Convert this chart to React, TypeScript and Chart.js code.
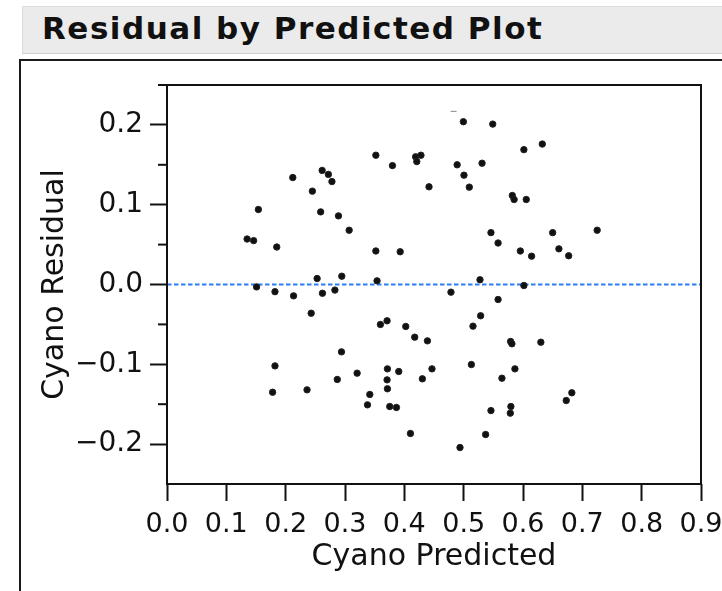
import React, { useEffect, useRef } from "react";
import { Chart, registerables } from "chart.js";

Chart.register(...registerables);

// ---- Data ----
const predicted = [
  0.212, 0.2615, 0.272, 0.278, 0.245, 0.154, 0.259, 0.289, 0.135, 0.146,
  0.185, 0.253, 0.151, 0.4995, 0.549, 0.6015, 0.352, 0.38, 0.419, 0.428,
  0.421, 0.489, 0.531, 0.5005, 0.5095, 0.4416, 0.582, 0.585, 0.6055, 0.307,
  0.352, 0.393, 0.546, 0.558, 0.5955, 0.2946, 0.354, 0.5275, 0.6015, 0.6325,
  0.65, 0.725, 0.6145, 0.6605, 0.677, 0.182, 0.2133, 0.262, 0.283, 0.243,
  0.182, 0.178, 0.236, 0.287, 0.4786, 0.558, 0.5286, 0.5157, 0.3597, 0.3709,
  0.4024, 0.4175, 0.4389, 0.2941, 0.3204, 0.3715, 0.3709, 0.3715, 0.3906, 0.4304,
  0.4466, 0.3418, 0.3379, 0.3754, 0.3867, 0.4103, 0.4938, 0.513, 0.537, 0.546,
  0.5645, 0.5864, 0.5791, 0.5813, 0.5796, 0.5786, 0.6301, 0.6823, 0.6729,
];
const residual = [
  0.134, 0.143, 0.138, 0.129, 0.117, 0.094, 0.091, 0.086, 0.057, 0.055,
  0.047, 0.0075, -0.003, 0.204, 0.201, 0.169, 0.162, 0.149, 0.16, 0.162,
  0.154, 0.15, 0.152, 0.137, 0.122, 0.1224, 0.1115, 0.1065, 0.1065, 0.068,
  0.042, 0.041, 0.065, 0.052, 0.042, 0.0104, 0.0046, 0.0059, -0.0013, 0.176,
  0.065, 0.068, 0.0355, 0.0447, 0.036, -0.009, -0.0142, -0.011, -0.007, -0.036,
  -0.102, -0.135, -0.132, -0.119, -0.0096, -0.0188, -0.0392, -0.0522, -0.0501, -0.0455,
  -0.0526, -0.066, -0.0706, -0.0844, -0.1111, -0.1057, -0.1195, -0.1307, -0.109, -0.1182,
  -0.1057, -0.1378, -0.1508, -0.1529, -0.1541, -0.1867, -0.2043, -0.1003, -0.188, -0.158,
  -0.1174, -0.1057, -0.0714, -0.0743, -0.1529, -0.1612, -0.0723, -0.1357, -0.1454,
];
const faintPredicted = [0.483];
const faintResidual = [0.217];

const zeroLineX = [0, 0.9];
const zeroLineY = [0, 0];

const xRange = [0, 0.9];
const yRange = [-0.25, 0.25];
const xTickValues = [0, 0.1, 0.2, 0.3, 0.4, 0.5, 0.6, 0.7, 0.8, 0.9];
const xTickLabels = ["0.0", "0.1", "0.2", "0.3", "0.4", "0.5", "0.6", "0.7", "0.8", "0.9"];
const yTickValues = [-0.2, -0.1, 0, 0.1, 0.2];
const yTickLabels = ["\u22120.2", "\u22120.1", "0.0", "0.1", "0.2"];
const yMinorTicks = [-0.15, -0.05, 0.05, 0.15, 0.25];

const titleText = "Residual by Predicted Plot";
const xTitle = "Cyano Predicted";
const yTitle = "Cyano Residual";

const FONT = "'DejaVu Sans', 'Noto Sans', sans-serif";

const framePlugin = {
  id: "plotFrame",
  afterDraw(chart: any) {
    const { ctx, chartArea: a, scales } = chart;
    ctx.save();
    ctx.strokeStyle = "#111";
    ctx.lineWidth = 2;
    ctx.strokeRect(a.left, a.top, a.right - a.left, a.bottom - a.top);
    yMinorTicks.forEach((v) => {
      const py = scales.y.getPixelForValue(v);
      ctx.beginPath();
      ctx.moveTo(a.left - 9, py);
      ctx.lineTo(a.left, py);
      ctx.stroke();
    });
    ctx.restore();
  },
};

export default function App() {
  const ref = useRef<HTMLCanvasElement | null>(null);

  useEffect(() => {
    if (!ref.current) return;
    const chart = new Chart(ref.current, {
      type: "scatter",
      data: {
        datasets: [
          {
            type: "line",
            data: zeroLineX.map((x, i) => ({ x, y: zeroLineY[i] })),
            borderColor: "#2b7cf6",
            borderWidth: 2,
            borderDash: [4.5, 2.5],
            pointRadius: 0,
            fill: false,
            order: 3,
          } as any,
          {
            data: predicted.map((x, i) => ({ x, y: residual[i] })),
            pointStyle: "circle",
            pointRadius: 3.2,
            backgroundColor: "#111",
            borderColor: "#222",
            borderWidth: 1,
            order: 1,
          },
          {
            data: faintPredicted.map((x, i) => ({ x, y: faintResidual[i] })),
            pointStyle: "line",
            pointRadius: 3,
            borderColor: "#888",
            borderWidth: 1,
            order: 2,
          },
        ],
      },
      options: {
        responsive: false,
        animation: false,
        devicePixelRatio: 1,
        layout: { padding: { top: 85, right: 21, bottom: 0, left: 0 } },
        plugins: { legend: { display: false }, tooltip: { enabled: false } },
        scales: {
          x: {
            type: "linear",
            min: xRange[0],
            max: xRange[1],
            afterBuildTicks: (s: any) => {
              s.ticks = xTickValues.map((v) => ({ value: v }));
            },
            afterFit: (s: any) => {
              s.height = 107;
              s.paddingLeft = 0;
              s.paddingRight = 0;
            },
            ticks: {
              callback: (v: any) => xTickLabels[xTickValues.indexOf(Number(v))] ?? "",
              font: { family: FONT, size: 27 },
              color: "#111",
              padding: 8,
              autoSkip: false,
              maxRotation: 0,
              minRotation: 0,
            },
            grid: {
              display: true,
              drawOnChartArea: false,
              drawTicks: true,
              tickLength: 17,
              tickColor: "#111",
              tickWidth: 2,
            },
            border: { display: false },
            title: {
              display: true,
              text: xTitle,
              color: "#111",
              font: { family: FONT, size: 30 },
              padding: { top: 0, bottom: 16 },
            },
          },
          y: {
            type: "linear",
            min: yRange[0],
            max: yRange[1],
            afterBuildTicks: (s: any) => {
              s.ticks = yTickValues.map((v) => ({ value: v }));
            },
            afterFit: (s: any) => {
              s.width = 167;
              s.paddingTop = 0;
              s.paddingBottom = 0;
            },
            ticks: {
              callback: (v: any) => yTickLabels[yTickValues.indexOf(Number(v))] ?? "",
              font: { family: FONT, size: 28 },
              color: "#111",
              padding: 7,
              autoSkip: false,
            },
            grid: {
              display: true,
              drawOnChartArea: false,
              drawTicks: true,
              tickLength: 17,
              tickColor: "#111",
              tickWidth: 2,
            },
            border: { display: false },
            title: {
              display: true,
              text: yTitle,
              color: "#111",
              font: { family: FONT, size: 30 },
              padding: { top: 37, bottom: 0 },
            },
          },
        },
      },
      plugins: [framePlugin],
    } as any);
    return () => chart.destroy();
  }, []);

  return (
    <div
      style={{
        position: "absolute",
        left: 0,
        top: 0,
        width: 722,
        height: 591,
        background: "#fff",
        overflow: "hidden",
      }}
    >
      <canvas
        ref={ref}
        width={722}
        height={591}
        style={{ position: "absolute", left: 0, top: 0, width: 722, height: 591, display: "block" }}
      />
      <div
        style={{
          position: "absolute",
          left: 22,
          top: 6,
          width: 700,
          height: 48,
          background: "#ebebeb",
          borderTop: "1px solid #dcdcdc",
          borderLeft: "1px solid #dcdcdc",
          borderBottom: "1px solid #cfcfcf",
          boxSizing: "border-box",
        }}
      />
      <div
        style={{
          position: "absolute",
          left: 42,
          top: 10,
          lineHeight: "36px",
          fontFamily: FONT,
          fontWeight: "bold",
          fontSize: 31,
          letterSpacing: "1.5px",
          color: "#111",
          whiteSpace: "nowrap",
        }}
      >
        {titleText}
      </div>
      <div style={{ position: "absolute", left: 19, top: 59, width: 703, height: 2, background: "#1a1a1a" }} />
      <div style={{ position: "absolute", left: 19, top: 59, width: 2, height: 532, background: "#1a1a1a" }} />
    </div>
  );
}
